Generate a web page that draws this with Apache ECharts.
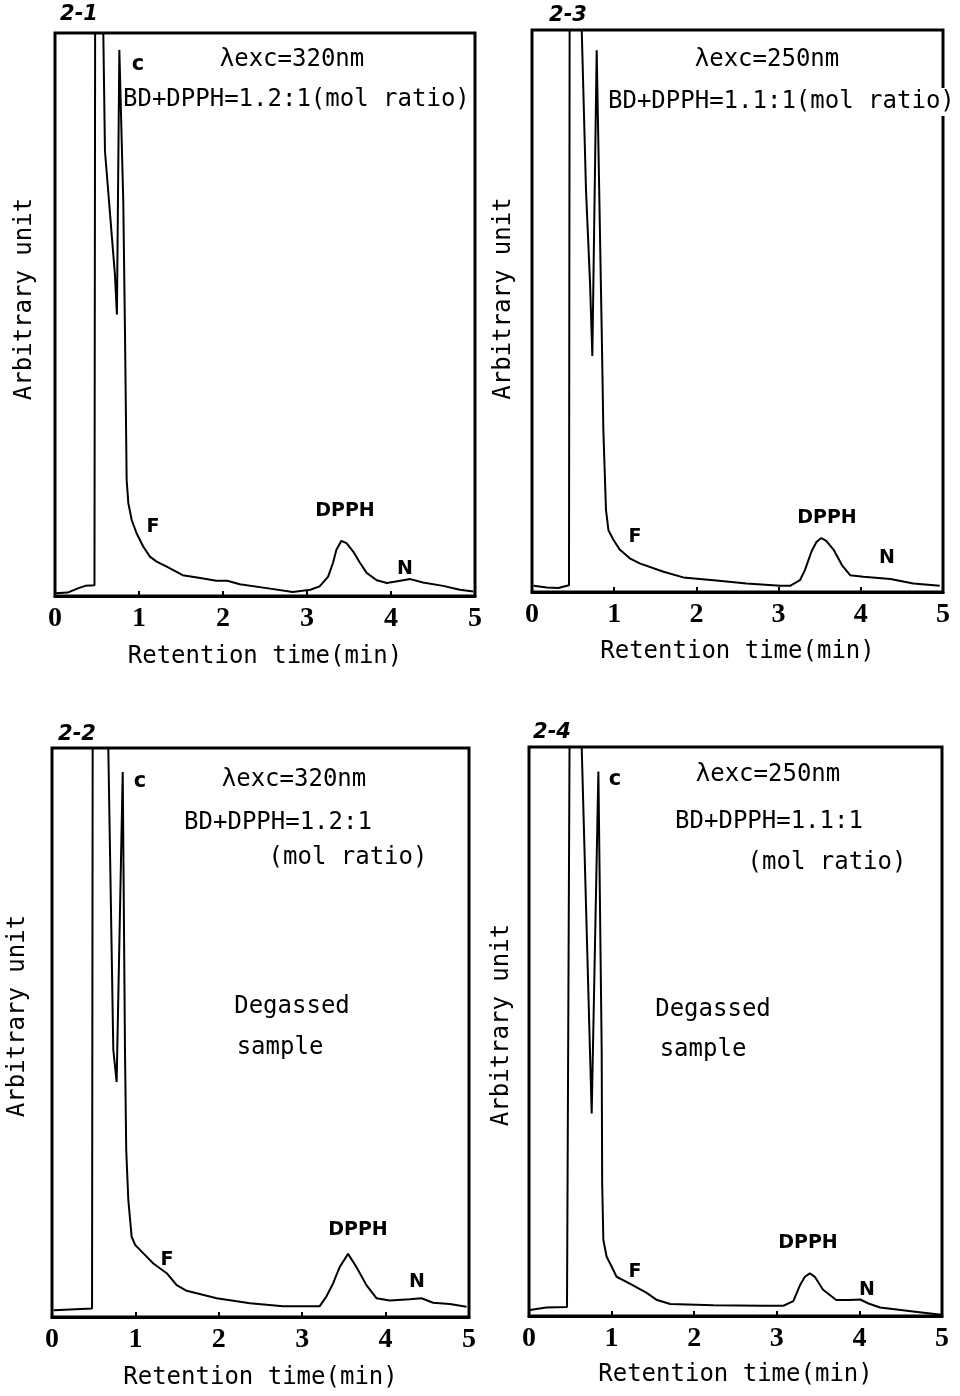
<!DOCTYPE html>
<html>
<head>
<meta charset="utf-8">
<script src="https://cdn.jsdelivr.net/npm/echarts@6/dist/echarts.min.js"></script>
<style>
html,body{margin:0;padding:0;background:#fff;}
#c{width:960px;height:1396px;}
</style>
</head>
<body>
<div id="c"></div>
<script>
// ---------- DATA ----------
// Panel 2-1 : lambda exc = 320 nm, BD+DPPH = 1.2:1
const t21 = [0, 0.15, 0.28, 0.36, 0.47, 0.48, 0.57, 0.575, 0.595, 0.714, 0.737, 0.766, 0.813, 0.833, 0.853, 0.873, 0.913, 0.972, 1.05, 1.13, 1.21, 1.33, 1.52, 1.73, 1.92, 2.05, 2.2, 2.52, 2.83, 3.04, 3.15, 3.25, 3.31, 3.35, 3.41, 3.47, 3.55, 3.63, 3.71, 3.83, 3.95, 4.11, 4.23, 4.38, 4.62, 4.82, 4.98];
const y21 = [0.5, 0.6, 1.4, 1.8, 1.9, 130, 130, 100, 79, 57, 50, 97, 70, 47, 20.6, 16.5, 13.5, 11.1, 8.8, 7.0, 6.1, 5.2, 3.7, 3.2, 2.7, 2.7, 2.1, 1.4, 0.7, 1.1, 1.7, 3.4, 5.9, 8.2, 9.8, 9.4, 7.9, 5.9, 4.1, 2.8, 2.3, 2.7, 3.0, 2.4, 1.8, 1.1, 0.8];

// Panel 2-3 : lambda exc = 250 nm, BD+DPPH = 1.1:1
const t23 = [0.02, 0.18, 0.32, 0.45, 0.46, 0.60, 0.605, 0.657, 0.706, 0.734, 0.787, 0.848, 0.868, 0.90, 0.93, 0.99, 1.07, 1.19, 1.31, 1.60, 1.84, 2.21, 2.61, 3.02, 3.14, 3.26, 3.32, 3.40, 3.46, 3.52, 3.58, 3.67, 3.77, 3.87, 4.03, 4.36, 4.64, 4.96];
const y23 = [1.1, 0.8, 0.7, 1.2, 130, 130, 100, 71.5, 55, 42, 96.4, 46.6, 28.8, 14.6, 11.0, 9.3, 7.5, 6.0, 5.1, 3.6, 2.6, 2.1, 1.5, 1.1, 1.1, 2.1, 3.9, 7.2, 8.9, 9.6, 9.1, 7.5, 4.8, 3.0, 2.7, 2.3, 1.5, 1.1];

// Panel 2-2 : lambda exc = 320 nm, degassed sample
const t22 = [0.02, 0.48, 0.49, 0.67, 0.675, 0.735, 0.775, 0.848, 0.875, 0.89, 0.915, 0.955, 1.0, 1.055, 1.215, 1.375, 1.495, 1.615, 1.975, 2.374, 2.77, 3.21, 3.29, 3.37, 3.45, 3.55, 3.65, 3.77, 3.89, 4.05, 4.29, 4.43, 4.57, 4.77, 4.97];
const y22 = [1.2, 1.5, 130, 130, 100, 47, 41.3, 95.8, 47, 29.3, 20.6, 14.1, 12.6, 11.8, 9.4, 7.7, 5.6, 4.6, 3.3, 2.4, 1.9, 1.9, 3.6, 5.9, 8.8, 11.1, 8.8, 5.6, 3.3, 2.9, 3.1, 3.3, 2.5, 2.3, 1.8];

// Panel 2-4 : lambda exc = 250 nm, degassed sample
const t24 = [0.01, 0.21, 0.46, 0.50, 0.63, 0.638, 0.738, 0.759, 0.84, 0.88, 0.886, 0.90, 0.94, 1.0, 1.06, 1.22, 1.42, 1.55, 1.71, 2.23, 2.83, 3.08, 3.20, 3.28, 3.34, 3.40, 3.46, 3.56, 3.72, 3.88, 4.01, 4.11, 4.25, 4.65, 4.99];
const y24 = [1.05, 1.5, 1.6, 130, 130, 100, 46.7, 35.6, 95.7, 46.7, 23.3, 13.4, 10.4, 8.7, 6.9, 5.7, 4.1, 2.8, 2.1, 1.9, 1.8, 1.8, 2.6, 5.4, 6.9, 7.5, 6.9, 4.6, 2.8, 2.8, 2.9, 2.2, 1.5, 0.8, 0.2];

const xTicks = [0, 1, 2, 3, 4, 5];
const panelIds = ['2-1', '2-3', '2-2', '2-4'];
const yName = 'Arbitrary unit';
const xName = 'Retention time(min)';

// ---------- LAYOUT ----------
const zip = (a, b) => a.map((v, i) => [v, b[i]]);
const seriesData = [zip(t21, y21), zip(t23, y23), zip(t22, y22), zip(t24, y24)];

const grids = [
  {left: 55, top: 33, width: 420, height: 563},
  {left: 532, top: 30, width: 411, height: 562},
  {left: 52, top: 748, width: 417, height: 569},
  {left: 529, top: 747, width: 413, height: 569}
];
const yGaps = [18, 16, 22, 15];
const yShift = [31, 25, 33, 13];
const xGaps = [49, 48, 49, 47];

const mono = "'DejaVu Sans Mono', 'Liberation Mono', monospace";
const hand = "'DejaVu Sans', 'Noto Sans', sans-serif";

const option = {
  backgroundColor: '#fff',
  animation: false,
  grid: grids.map(g => Object.assign({
    show: true, borderColor: '#000', borderWidth: 3, backgroundColor: 'transparent',
    containLabel: false, outerBoundsMode: 'none'
  }, g)),
  xAxis: grids.map((g, i) => ({
    type: 'value', gridIndex: i, min: 0, max: 5, interval: 1,
    name: xName, nameLocation: 'middle', nameGap: xGaps[i],
    nameTextStyle: {fontFamily: mono, fontSize: 24, color: '#000'},
    axisLine: {show: true, onZero: false, lineStyle: {color: '#000', width: 3}},
    axisTick: {show: true, inside: true, length: 5, lineStyle: {color: '#000', width: 2}},
    axisLabel: {
      show: true, margin: 9, color: '#000',
      fontFamily: "'Liberation Serif', 'DejaVu Serif', serif", fontSize: 28, fontWeight: 'bold',
      formatter: v => (xTicks.indexOf(v) >= 0 ? String(v) : '')
    },
    splitLine: {show: false}
  })),
  yAxis: grids.map((g, i) => ({
    type: 'value', gridIndex: i, min: 0, max: 100,
    name: yName, nameLocation: 'middle', nameGap: yGaps[i], nameRotate: 90,
    nameTextStyle: {fontFamily: mono, fontSize: 24, color: '#000', padding: [0, 0, 0, yShift[i]]},
    axisLine: {show: false}, axisTick: {show: false}, axisLabel: {show: false},
    splitLine: {show: false}
  })),
  series: seriesData.map((d, i) => ({
    type: 'line', name: panelIds[i], xAxisIndex: i, yAxisIndex: i,
    data: d, showSymbol: false, symbol: 'none', smooth: false, clip: true,
    lineStyle: {color: '#000', width: 2}
  })),
  graphic: []
};

function txt(text, x, y, font, extra) {
  option.graphic.push({
    type: 'text', z: 100,
    style: Object.assign({text: text, x: x, y: y, font: font, fill: '#000', align: 'center', verticalAlign: 'middle'}, extra || {})
  });
}
const fBig = 'normal 24px ' + mono;
const fHand = 'italic bold 21px ' + hand;
const fPeak = 'bold 19px ' + hand;
const fC = 'bold 21px ' + hand;

// Panel 2-1
txt('2-1', 79, 15, fHand);
txt('c', 138, 65, fC);
txt('λexc=320nm', 292, 60, fBig);
txt('BD+DPPH=1.2:1(mol ratio)', 123, 100, fBig, {align: 'left'});
txt('F', 153, 527, fPeak);
txt('DPPH', 345, 511, fPeak);
txt('N', 405, 569, fPeak);

// Panel 2-3
txt('2-3', 568, 16, fHand);
txt('λexc=250nm', 767, 60, fBig);
txt('BD+DPPH=1.1:1(mol ratio)', 606, 102, fBig, {align: 'left', backgroundColor: '#fff', padding: [2, 2]});
txt('F', 635, 537, fPeak);
txt('DPPH', 827, 518, fPeak);
txt('N', 887, 558, fPeak);

// Panel 2-2
txt('2-2', 77, 735, fHand);
txt('c', 140, 782, fC);
txt('λexc=320nm', 294, 780, fBig);
txt('BD+DPPH=1.2:1', 278, 823, fBig);
txt('(mol ratio)', 348, 858, fBig);
txt('Degassed', 292, 1007, fBig);
txt('sample', 280, 1048, fBig);
txt('F', 167, 1260, fPeak);
txt('DPPH', 358, 1230, fPeak);
txt('N', 417, 1282, fPeak);

// Panel 2-4
txt('2-4', 552, 733, fHand);
txt('c', 615, 780, fC);
txt('λexc=250nm', 768, 775, fBig);
txt('BD+DPPH=1.1:1', 769, 822, fBig);
txt('(mol ratio)', 827, 863, fBig);
txt('Degassed', 713, 1010, fBig);
txt('sample', 703, 1050, fBig);
txt('F', 635, 1272, fPeak);
txt('DPPH', 808, 1243, fPeak);
txt('N', 867, 1290, fPeak);

const chart = echarts.init(document.getElementById('c'), null, {renderer: 'canvas'});
chart.setOption(option);
</script>
</body>
</html>
